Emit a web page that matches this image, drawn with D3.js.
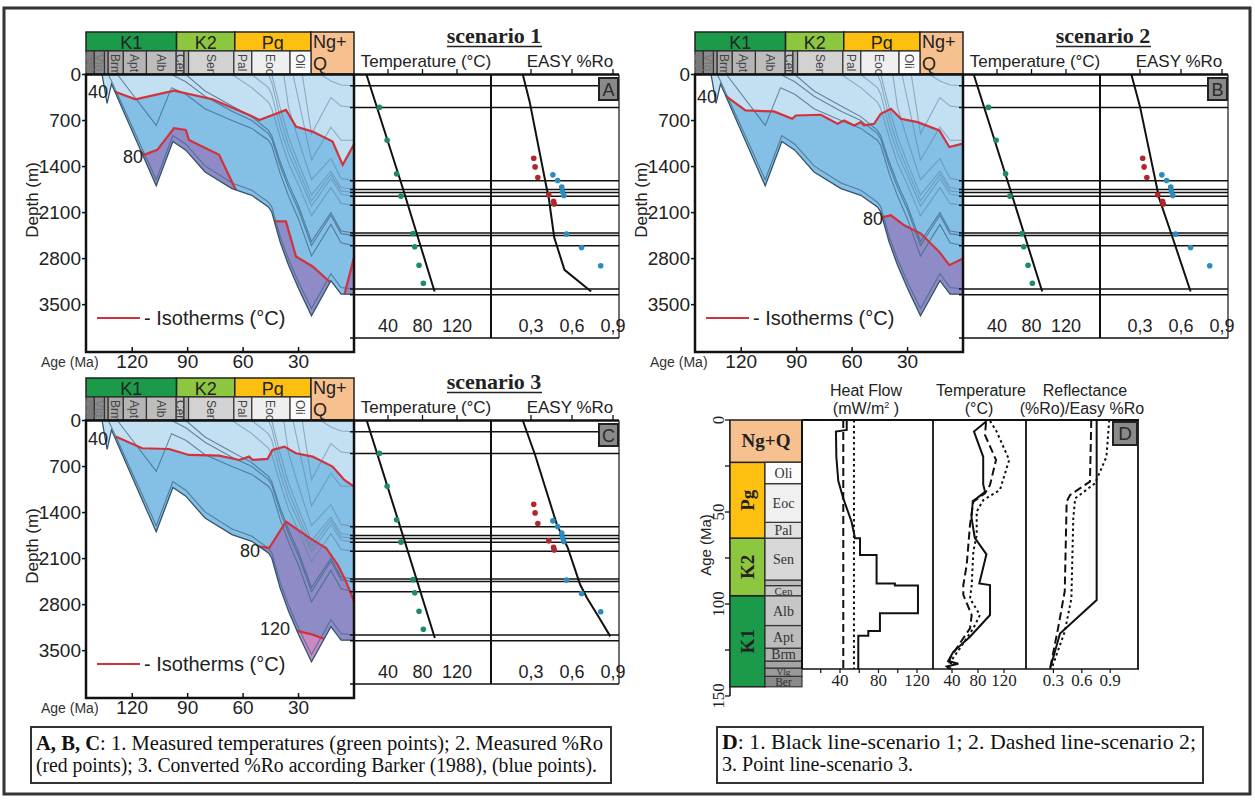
<!DOCTYPE html>
<html><head><meta charset="utf-8">
<script src="https://cdn.jsdelivr.net/npm/d3@7"></script>
<style>body{margin:0;background:#fff}svg{display:block}</style>
</head><body><script>
// ================= DATA =================
const periodNames = ["K1","K2","Pg","Ng+Q"];
const periodAges  = [145, 96, 64.5, 23.3, 0];
const epochNames  = ["Ber","Vlg","","Brm","Apt","Alb","Cen","","Sen","Pal","Eoc","Oli"];
const epochAges   = [145,140.5,135,133,124.8,112.3,96.2,92,89.5,65,55.3,34.6,23.3];

const depthTicks = [0,700,1400,2100,2800,3500];
const ageTicks   = [120,90,60,30];
const tempTicks  = [40,80,120];
const roTicks    = [0.3,0.6,0.9];

// burial history horizons [age Ma, depth m]
const basement = [[136.3,0],[133.6,440],[131.2,144],[107,1693],[98,1020],[91,1150],[80.6,1483],[66,1736],[55.3,1837],[46.3,2015],[44.5,2091],[40,2546],[35.4,2900],[30,3254],[23,3670],[12.5,3135],[7,3340],[0,3340]];
const horizons = [
  [[133,0],[131.2,100],[107,1600],[98,930],[91,1060],[80.6,1390],[66,1650],[55.3,1760],[46.3,1940],[44.5,2010],[40,2460],[35.4,2810],[30,3160],[23,3560],[12.5,3030],[7,3240],[0,3262]],
  [[128,0],[107,774],[98.7,200],[91,300],[80.6,520],[66,700],[55.3,820],[46.3,1000],[44.5,1080],[40,1500],[35.4,1850],[30,2200],[23,2760],[12.5,2280],[7,2560],[0,2605]],
  [[98.7,0],[91,110],[80.6,330],[66,560],[55.3,700],[46.3,900],[44.5,980],[40,1380],[35.4,1720],[30,2060],[23,2600],[12.5,2140],[7,2420],[0,2450]],
  [[91,0],[80.6,250],[66,480],[55.3,640],[46.3,850],[44.5,930],[40,1320],[35.4,1660],[30,2000],[23,2540],[12.5,2100],[7,2380],[0,2410]],
  [[66,0],[55.3,200],[46.3,420],[44.5,520],[40,950],[35.4,1350],[30,1680],[23,2150],[12.5,1720],[7,1960],[0,1990]],
  [[55.3,0],[46.3,200],[44.5,300],[40,800],[35.4,1200],[30,1540],[23,2000],[12.5,1580],[7,1820],[0,1850]],
  [[46.3,0],[44.5,120],[40,650],[35.4,1080],[30,1450],[23,1920],[12.5,1520],[7,1770],[0,1793]],
  [[44.5,0],[40,500],[35.4,950],[30,1350],[23,1830],[12.5,1470],[7,1720],[0,1750]],
  [[38,0],[35.4,500],[30,1000],[23,1600],[12.5,1280],[7,1580],[0,1614]],
  [[33,0],[23,1300],[12.5,800],[7,1000],[0,1000]],
  [[28,0],[23,900],[12.5,350],[7,480],[0,502]],
  [[18,0],[12.5,100],[7,160],[0,172]]
];

// isotherms [age, depth] per scenario
const iso40_s1 = [[130.8,246],[118.2,377],[97.4,246],[76.6,377],[56.7,615],[51.3,691],[44,615],[36.8,539],[31.4,792],[22.4,868],[11.6,1020],[6.1,1374],[0,1060]];
const iso80_s1 = [[125,900],[113.6,1222],[106.4,1146],[97.4,817],[91,843],[89.3,994],[73,1222],[64,1753],[55,2000],[46,2150],[43.2,2235],[36.8,2235],[31.4,2767],[22.4,2919],[12.4,3171],[9,3450],[5.2,3348],[0,2780]];
const iso40_s2 = [[131.2,268],[117.7,547],[102.3,562],[92.4,673],[90.5,623],[76.9,612],[67.9,749],[64.3,698],[58.9,774],[55.3,724],[53.5,774],[48.1,749],[44.5,597],[39,521],[33.6,673],[24.6,724],[12.8,850],[7.4,1104],[0,1052]];
const iso80_s2 = [[50,2300],[46.3,2191],[39,2141],[31.8,2293],[22.8,2419],[12.8,2698],[7.4,2900],[0,2798]];
const iso40_s3 = [[129,245],[114.6,422],[100.1,433],[89.3,524],[73,534],[62.1,600],[56.7,549],[54.9,600],[46.8,585],[44.1,448],[37.7,397],[31.4,498],[22.4,549],[11.6,701],[5.2,903],[0,1005]];
const iso80_s3 = [[56,2000],[51.3,1916],[45.9,1941],[36.8,1536],[27.8,1713],[22.4,1815],[15.1,1941],[8.8,2194],[4.3,2448],[0,2751]];
const iso120_s3 = [[36,3150],[31.4,3196],[22.4,3257],[15.1,3333],[10,3500]];

// well profiles (depth m)
const horizonDepths = [172,502,1614,1750,1793,1850,1990,2410,2450,2605,3262,3350];
const measTempDepth = [500,1000,1510,1850,2420,2620,2900,3175];
const measTemp      = [30,39,50,55,69,71,76,81];
const measRoDepth   = [1273,1405,1567,1830,1930,1970];
const measRo        = [0.32,0.33,0.35,0.43,0.465,0.47];
const convRoDepth   = [1526,1612,1713,1780,1840,2427,2630,2908];
const convRo        = [0.46,0.495,0.525,0.53,0.54,0.56,0.67,0.81];

const modTemp_s1 = [[0,15],[1680,56],[3300,94]];
const modTemp_s2 = [[0,13],[1680,53.7],[3300,92.4]];
const modTemp_s3 = [[0,15.3],[1690,55.9],[3307,94.3]];
const modRo_s1 = [[0,0.24],[413,0.29],[1680,0.41],[1875,0.43],[2480,0.47],[2970,0.545],[3300,0.74]];
const modRo_s2 = [[0,0.237],[489,0.30],[1880,0.44],[2490,0.54],[3300,0.67]];
const modRo_s3 = [[0,0.24],[524,0.33],[1587,0.49],[1940,0.57],[2498,0.66],[2700,0.71],[3003,0.80],[3283,0.88]];

// Panel D
const dEpochNames = ["Ber","Vlg","","Brm","Apt","Alb","Cen","","Sen","Pal","Eoc","Oli"];
const dEpochAges  = [145,139.3,134.8,131,124,111.7,95.5,90,87,64.2,55.6,34.6,23];
const dPeriodNames = ["K1","K2","Pg","Ng+Q"];
const dPeriodAges  = [145,95.5,64.2,23,0];
const dAgeTicks = [0,50,100,150];

const hfAge1 = [0,5.4,6.3,20,33,42.6,55.3,64.3,64.3,73.4,73.4,88.8,88.8,90,90,105,105,114.7,114.7,117.2,117.2,135.3];
const hf1    = [47,47,35.8,36.2,38.2,43.4,52,55.6,60.8,60.8,78,78,97,97,121,121,81.5,81.5,69.4,69.4,59,59];
const hfAge2 = [0,135.3]; const hf2 = [43.4,43.4];
const hfAge3 = [0,135.3]; const hf3 = [54.5,54.5];

const tAge1 = [0.5,6.3,20,35,39,42.6,44,53,64,73,88.8,89.7,106,117.8,126,131,132.5,134,135.3];
const t1    = [93.4,73.8,88,88,90.8,78,72,70,75,93,82,98.5,98.5,67.7,42,34,49.7,32,37];
const tAge2 = [1.3,8.2,21.7,35.3,39.9,44.4,57,78.8,89.7,95,106,113.2,124,129.5,135.3];
const t2    = [92.3,90.8,107.7,98.5,90.8,72.8,67.7,62.6,57.4,57.4,70.3,67.7,47.2,37,34.3];
const tAge3 = [0.5,6.3,21.7,38,43.5,49.8,62.5,71.6,89.7,97,106,113.2,124,130.4,135.3];
const t3    = [98.5,108.7,128,113.8,88.2,78,78,72.8,70.3,67.7,83,72.8,52.3,39.5,37];

const roAge1 = [0,97.8,116,135.3]; const ro1 = [0.757,0.757,0.37,0.264];
const roAge2 = [0,33.5,40.8,44.4,93,113,135.3]; const ro2 = [0.70,0.686,0.475,0.44,0.42,0.35,0.264];
const roAge3 = [0,20,34.4,42.6,53.4,97,115,135.3]; const ro3 = [0.89,0.86,0.74,0.53,0.51,0.49,0.42,0.28];

// ================= DRAW =================
const SANS = "'Liberation Sans', Arial, sans-serif";
const SERIF = "'Liberation Serif', 'Times New Roman', serif";
const svg = d3.select("body").append("svg").attr("width",1255).attr("height",801);
svg.append("rect").attr("width",1255).attr("height",801).attr("fill","#fff");
svg.append("rect").attr("x",4).attr("y",8).attr("width",1246).attr("height",786)
  .attr("fill","none").attr("stroke","#333").attr("stroke-width",3);

const periodColor = {"K1":"#1b9a4a","K2":"#8dc63f","Pg":"#fdc010","Ng+Q":"#f7c08f"};
const epochFill = ["#7d7d7d","#8c8c8c","#9a9a9a","#a9a9a9","#b5b5b5","#bdbdbd","#c2c2c2","#acacac","#d2d2d2","#dedede","#efefef","#fbfbfb"];

function scenario(cfg){
  const g = svg.append("g").attr("transform",`translate(${cfg.ox},${cfg.oy})`);
  const x = d3.scaleLinear().domain([145,0]).range([86,354]);
  const y = d3.scaleLinear().domain([0,4220]).range([74.5,352]);
  const id = "clip"+cfg.letter;
  const sedPoly = [[136.3,0],[0,0]].concat(basement.slice().reverse());
  g.append("clipPath").attr("id",id).append("path")
    .attr("d", d3.line().x(d=>x(d[0])).y(d=>y(d[1]))(sedPoly)+"Z");
  const cg = g.append("g").attr("clip-path",`url(#${id})`);
  cg.append("rect").attr("x",80).attr("y",74).attr("width",280).attr("height",280).attr("fill","#c3e0f3");
  const below = (iso,color)=>{
    const pts = iso.map(p=>[x(p[0]),y(p[1])]);
    pts.push([x(iso[iso.length-1][0]),y(4600)]);
    pts.push([x(iso[0][0]),y(4600)]);
    cg.append("path").attr("d","M"+pts.join("L")+"Z").attr("fill",color);
  };
  below(cfg.iso40,"#84bfe6");
  below(cfg.iso80,"#8e8bc6");
  if(cfg.iso120) below(cfg.iso120,"#c98ac4");
  const line = d3.line().x(d=>x(d[0])).y(d=>y(d[1]));
  horizons.forEach((h,i)=>{
    cg.append("path").attr("d",line(h)).attr("fill","none")
      .attr("stroke", i<4 ? "#3f6783" : "#5d87a4").attr("stroke-opacity",i<4?0.75:0.6).attr("stroke-width",1.1);
  });
  [cfg.iso40,cfg.iso80,cfg.iso120].forEach(iso=>{
    if(!iso) return;
    cg.append("path").attr("d",line(iso)).attr("fill","none").attr("stroke","#d2323c").attr("stroke-width",2.2);
  });
  g.append("path").attr("d",line(basement)).attr("fill","none").attr("stroke","#34546e").attr("stroke-width",1.3);

  // header
  const hg = g.append("g");
  periodNames.forEach((n,i)=>{
    const x0=x(periodAges[i]), x1=x(periodAges[i+1]);
    const full = n==="Ng+Q";
    hg.append("rect").attr("x",x0).attr("y",32).attr("width",x1-x0).attr("height",full?42:19)
      .attr("fill",periodColor[n]).attr("stroke","#222").attr("stroke-width",1.5);
    if(full){
      hg.append("text").attr("x",x0+2).attr("y",48).text("Ng+").attr("font-family",SANS).attr("font-size",18).attr("fill","#222");
      hg.append("text").attr("x",x0+2).attr("y",70).text("Q").attr("font-family",SANS).attr("font-size",18).attr("fill","#222");
    } else {
      hg.append("text").attr("x",(x0+x1)/2).attr("y",48.5).attr("text-anchor","middle").text(n)
        .attr("font-family",SANS).attr("font-size",18).attr("fill","#222");
    }
  });
  epochNames.forEach((n,i)=>{
    const x0=x(epochAges[i]), x1=x(epochAges[i+1]);
    hg.append("rect").attr("x",x0).attr("y",51).attr("width",x1-x0).attr("height",23)
      .attr("fill",epochFill[i]).attr("stroke","#333").attr("stroke-width",1.2);
    if(n) hg.append("text").attr("transform",`translate(${(x0+x1)/2-4.5},54) rotate(90)`).text(n)
      .attr("font-family",SANS).attr("font-size",12).attr("fill",i<3?"#777":"#444");
  });

  g.append("rect").attr("x",86).attr("y",74.5).attr("width",268).attr("height",277.5)
    .attr("fill","none").attr("stroke","#111").attr("stroke-width",2.5);
  depthTicks.forEach(d=>{
    g.append("line").attr("x1",82).attr("x2",86).attr("y1",y(d)).attr("y2",y(d)).attr("stroke","#111").attr("stroke-width",1.5);
    g.append("text").attr("x",81).attr("y",y(d)+6.5).attr("text-anchor","end").text(d)
      .attr("font-family",SANS).attr("font-size",19).attr("fill","#222");
  });
  ageTicks.forEach(a=>{
    g.append("line").attr("x1",x(a)).attr("x2",x(a)).attr("y1",352).attr("y2",347).attr("stroke","#111").attr("stroke-width",1.5);
    g.append("text").attr("x",x(a)).attr("y",368).attr("text-anchor","middle").text(a)
      .attr("font-family",SANS).attr("font-size",19).attr("fill","#222");
  });
  g.append("text").attr("x",41).attr("y",367).text("Age (Ma)").attr("font-family",SANS).attr("font-size",14).attr("fill","#333");
  g.append("text").attr("transform","translate(38,200) rotate(-90)").attr("text-anchor","middle").text("Depth (m)")
    .attr("font-family",SANS).attr("font-size",17).attr("fill","#222");
  cfg.labels.forEach(l=>{
    g.append("text").attr("x",l[1]).attr("y",l[2]).text(l[0]).attr("font-family",SANS).attr("font-size",18).attr("fill","#222");
  });
  g.append("line").attr("x1",97).attr("x2",140).attr("y1",318).attr("y2",318).attr("stroke","#d2323c").attr("stroke-width",2);
  g.append("text").attr("x",144).attr("y",325).text("- Isotherms (°C)").attr("font-family",SANS).attr("font-size",20).attr("fill","#222");

  // well profiles
  const tx = d3.scaleLinear().domain([0,160]).range([353.5,491.5]);
  const rx = d3.scaleLinear().domain([0,0.9]).range([490,613]);
  const pg = g.append("g");
  horizonDepths.forEach(d=>{
    pg.append("line").attr("x1",350).attr("x2",619).attr("y1",y(d)).attr("y2",y(d)).attr("stroke","#111").attr("stroke-width",1.5);
  });
  pg.append("line").attr("x1",354).attr("x2",619).attr("y1",74.5).attr("y2",74.5).attr("stroke","#111").attr("stroke-width",2.5);
  pg.append("line").attr("x1",350).attr("x2",619).attr("y1",338).attr("y2",338).attr("stroke","#111").attr("stroke-width",1.5);
  pg.append("line").attr("x1",491).attr("x2",491).attr("y1",74.5).attr("y2",338).attr("stroke","#111").attr("stroke-width",2);
  pg.append("line").attr("x1",619).attr("x2",619).attr("y1",74.5).attr("y2",338).attr("stroke","#111").attr("stroke-width",1.2);
  tempTicks.forEach(t=>{
    pg.append("line").attr("x1",tx(t)).attr("x2",tx(t)).attr("y1",74.5).attr("y2",69).attr("stroke","#111").attr("stroke-width",1.3);
    pg.append("text").attr("x",tx(t)).attr("y",332).attr("text-anchor","middle").text(t).attr("font-family",SANS).attr("font-size",18).attr("fill","#222");
  });
  roTicks.forEach(t=>{
    pg.append("line").attr("x1",rx(t)).attr("x2",rx(t)).attr("y1",74.5).attr("y2",69).attr("stroke","#111").attr("stroke-width",1.3);
    pg.append("text").attr("x",rx(t)).attr("y",332).attr("text-anchor","middle").text(String(t).replace(".",",")).attr("font-family",SANS).attr("font-size",18).attr("fill","#222");
  });
  pg.append("text").attr("x",426).attr("y",67).attr("text-anchor","middle").text("Temperature (°C)").attr("font-family",SANS).attr("font-size",17).attr("fill","#222");
  pg.append("text").attr("x",570).attr("y",67).attr("text-anchor","middle").text("EASY %Ro").attr("font-family",SANS).attr("font-size",17).attr("fill","#222");
  pg.append("text").attr("x",494).attr("y",43).attr("text-anchor","middle").text(cfg.title)
    .attr("font-family",SERIF).attr("font-weight","bold").attr("font-size",22).attr("fill","#222");
  pg.append("line").attr("x1",447).attr("x2",542).attr("y1",46.5).attr("y2",46.5).attr("stroke","#222").attr("stroke-width",1.4);
  pg.append("path").attr("d",d3.line().x(d=>tx(d[1])).y(d=>y(d[0]))(cfg.modTemp)).attr("fill","none").attr("stroke","#111").attr("stroke-width",2);
  pg.append("path").attr("d",d3.line().x(d=>rx(d[1])).y(d=>y(d[0]))(cfg.modRo)).attr("fill","none").attr("stroke","#111").attr("stroke-width",2);
  measTemp.forEach((t,i)=>pg.append("circle").attr("cx",tx(t)).attr("cy",y(measTempDepth[i])).attr("r",2.8).attr("fill","#1e8c63"));
  measRo.forEach((r,i)=>pg.append("circle").attr("cx",rx(r)).attr("cy",y(measRoDepth[i])).attr("r",2.8).attr("fill","#b3252d"));
  convRo.forEach((r,i)=>pg.append("circle").attr("cx",rx(r)).attr("cy",y(convRoDepth[i])).attr("r",2.8).attr("fill","#2b8cbd"));
  pg.append("rect").attr("x",599).attr("y",78).attr("width",19).attr("height",22).attr("fill","#8a8a8a").attr("stroke","#222").attr("stroke-width",2);
  pg.append("text").attr("x",608.5).attr("y",95.5).attr("text-anchor","middle").text(cfg.letter).attr("font-family",SANS).attr("font-size",18).attr("fill","#2a2a2a");
}

scenario({ox:0,oy:0,letter:"A",title:"scenario 1",iso40:iso40_s1,iso80:iso80_s1,modTemp:modTemp_s1,modRo:modRo_s1,
  labels:[["40",88,98],["80",123,163]]});
scenario({ox:609,oy:0,letter:"B",title:"scenario 2",iso40:iso40_s2,iso80:iso80_s2,modTemp:modTemp_s2,modRo:modRo_s2,
  labels:[["40",88,103],["80",254,225]]});
scenario({ox:0,oy:346,letter:"C",title:"scenario 3",iso40:iso40_s3,iso80:iso80_s3,iso120:iso120_s3,modTemp:modTemp_s3,modRo:modRo_s3,
  labels:[["40",88,99],["80",240,211],["120",260,289]]});

// ===== Panel D =====
const gD = svg.append("g");
const yD = d3.scaleLinear().domain([0,150]).range([420,696]);
const hfx = d3.scaleLinear().domain([0,140]).range([801.5,936.25]);
const tdx = d3.scaleLinear().domain([40,120]).range([952,1004]);
const rdx = d3.scaleLinear().domain([0,1.2]).range([1025,1138.6]);
// age axis
gD.append("line").attr("x1",730).attr("x2",730).attr("y1",420).attr("y2",696).attr("stroke","#111").attr("stroke-width",1.5);
d3.range(0,151,25).forEach(a=>gD.append("line").attr("x1",725).attr("x2",730).attr("y1",yD(a)).attr("y2",yD(a)).attr("stroke","#111").attr("stroke-width",1.3));
dAgeTicks.forEach(a=>gD.append("text").attr("transform",`translate(724,${yD(a)}) rotate(-90)`).attr("text-anchor","middle").text(a)
  .attr("font-family",SERIF).attr("font-size",17).attr("fill","#222"));
gD.append("text").attr("transform","translate(711,545) rotate(-90)").attr("text-anchor","middle").text("Age (Ma)")
  .attr("font-family",SANS).attr("font-size",15).attr("fill","#222");
// strat column
dPeriodNames.forEach((n,i)=>{
  const y0=yD(dPeriodAges[i+1]), y1=yD(dPeriodAges[i]);
  const full = n==="Ng+Q";
  gD.append("rect").attr("x",730).attr("y",y0).attr("width",full?72:35).attr("height",y1-y0)
    .attr("fill",periodColor[n]).attr("stroke","#222").attr("stroke-width",1.5);
  if(full) gD.append("text").attr("x",766).attr("y",(y0+y1)/2+6).attr("text-anchor","middle").text(n)
    .attr("font-family",SERIF).attr("font-weight","bold").attr("font-size",19).attr("fill","#222");
  else gD.append("text").attr("transform",`translate(${754},${(y0+y1)/2}) rotate(-90)`).attr("text-anchor","middle").text(n)
    .attr("font-family",SERIF).attr("font-weight","bold").attr("font-size",19).attr("fill","#222");
});
const dEpochFill = ["#8a8a8a","#9a9a9a","#a5a5a5","#b0b0b0","#bcbcbc","#c6c6c6","#c8c8c8","#bbbbbb","#d8d8d8","#e2e2e2","#f0f0f0","#fcfcfc"];
dEpochNames.forEach((n,i)=>{
  const y0=yD(dEpochAges[i+1]), y1=yD(dEpochAges[i]);
  gD.append("rect").attr("x",765).attr("y",y0).attr("width",37).attr("height",y1-y0)
    .attr("fill",dEpochFill[i]).attr("stroke","#333").attr("stroke-width",1.2);
  if(n){
    const fs = Math.min(14,(y1-y0)+1);
    gD.append("text").attr("x",783.5).attr("y",(y0+y1)/2+fs*0.35).attr("text-anchor","middle").text(n)
      .attr("font-family",SERIF).attr("font-size",fs).attr("fill","#333");
  }
});
// panels frame
gD.append("line").attr("x1",802).attr("x2",1139).attr("y1",420).attr("y2",420).attr("stroke","#111").attr("stroke-width",2.2);
gD.append("line").attr("x1",802).attr("x2",1139).attr("y1",669).attr("y2",669).attr("stroke","#111").attr("stroke-width",1.5);
[802,933,1026,1138].forEach(xv=>gD.append("line").attr("x1",xv).attr("x2",xv).attr("y1",420).attr("y2",669).attr("stroke","#111").attr("stroke-width",xv===802?2:1.8));
const addTicks=(sc,vals,lab,fmt)=>{
  vals.forEach(v=>gD.append("line").attr("x1",sc(v)).attr("x2",sc(v)).attr("y1",669).attr("y2",673).attr("stroke","#111").attr("stroke-width",1.2));
  lab.forEach(v=>gD.append("text").attr("x",sc(v)).attr("y",686).attr("text-anchor","middle").text(fmt(v))
    .attr("font-family",SERIF).attr("font-size",17).attr("fill","#222"));
};
addTicks(hfx,[20,40,60,80,100,120],[40,80,120],String);
addTicks(tdx,[40,80,120],[40,80,120],String);
addTicks(rdx,[0.3,0.6,0.9],[0.3,0.6,0.9],v=>v.toFixed(1));
// headings
const hd=(t,xv,yv)=>gD.append("text").attr("x",xv).attr("y",yv).attr("text-anchor","middle").text(t).attr("font-family",SANS).attr("font-size",16).attr("fill","#222");
hd("Heat Flow",866,396); hd("Temperature",981,396); hd("Reflectance",1085,396);
const mw = gD.append("text").attr("x",866).attr("y",414).attr("text-anchor","middle").attr("font-family",SANS).attr("font-size",16).attr("fill","#222");
mw.append("tspan").text("(mW/m"); mw.append("tspan").attr("dy",-6).attr("font-size",9).text("2"); mw.append("tspan").attr("dy",6).text(" )");
hd("(°C)",979,414); hd("(%Ro)/Easy %Ro",1082,414);
// lines
const styles=[null,"8,4","2.5,3"];
const dline=(ages,vals,sc,k)=>gD.append("path").attr("d",d3.line().x((d,i)=>sc(vals[i])).y(d=>yD(d))(ages))
  .attr("fill","none").attr("stroke","#111").attr("stroke-width",2).attr("stroke-dasharray",styles[k]);
dline(hfAge1,hf1,hfx,0); dline(hfAge2,hf2,hfx,1); dline(hfAge3,hf3,hfx,2);
dline(tAge1,t1,tdx,0); dline(tAge2,t2,tdx,1); dline(tAge3,t3,tdx,2);
dline(roAge1,ro1,rdx,0); dline(roAge2,ro2,rdx,1); dline(roAge3,ro3,rdx,2);
gD.append("rect").attr("x",1113).attr("y",422).attr("width",24).attr("height",23).attr("fill","#8a8a8a").attr("stroke","#222").attr("stroke-width",2);
gD.append("text").attr("x",1125).attr("y",440).attr("text-anchor","middle").text("D").attr("font-family",SANS).attr("font-size",19).attr("fill","#2a2a2a");

// ===== captions =====
const cap = (txt,xv,yv,fs,len)=>svg.append("text").attr("x",xv).attr("y",yv).attr("font-family",SERIF).attr("font-size",fs)
  .attr("fill","#111").attr("textLength",len).attr("lengthAdjust","spacingAndGlyphs");
svg.append("rect").attr("x",31).attr("y",727).attr("width",580).attr("height",56).attr("fill","#fff").attr("stroke","#333").attr("stroke-width",2);
const c1 = cap(null,36,750,20,567);
c1.append("tspan").attr("font-weight","bold").text("A, B, C");
c1.append("tspan").text(": 1. Measured temperatures (green points); 2. Measured %Ro");
cap(null,36,772,20,561).text("(red points); 3. Converted %Ro according Barker (1988), (blue points).");
svg.append("rect").attr("x",717).attr("y",727).attr("width",486).attr("height",56).attr("fill","#fff").attr("stroke","#333").attr("stroke-width",2);
const c2 = cap(null,722,749,21,474);
c2.append("tspan").attr("font-weight","bold").text("D");
c2.append("tspan").text(": 1. Black line-scenario 1; 2. Dashed line-scenario 2;");
cap(null,722,771,21,191).text("3. Point line-scenario 3.");
</script></body></html>
